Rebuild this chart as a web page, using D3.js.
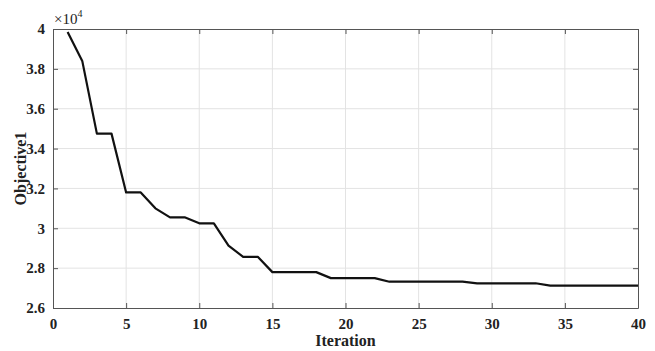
<!DOCTYPE html>
<html>
<head>
<meta charset="utf-8">
<script src="https://cdn.jsdelivr.net/npm/d3@7"></script>
<style>
  body { margin: 0; background: #fff; }
</style>
</head>
<body>
<div id="chart"></div>
<script>
// iteration number and best objective value (in units of 1e4)
const iterations = d3.range(1, 41);
const objective = [
  3.985, 3.84, 3.475, 3.475, 3.18, 3.18, 3.10, 3.055, 3.055, 3.025,
  3.025, 2.913, 2.857, 2.857, 2.78, 2.78, 2.78, 2.78, 2.75, 2.75,
  2.75, 2.75, 2.732, 2.732, 2.732, 2.732, 2.732, 2.732, 2.724, 2.724,
  2.724, 2.724, 2.724, 2.712, 2.712, 2.712, 2.712, 2.712, 2.712, 2.712
];
const xTicks = [0, 5, 10, 15, 20, 25, 30, 35, 40];
const yTicks = [2.6, 2.8, 3.0, 3.2, 3.4, 3.6, 3.8, 4.0];

const FONT = 'Liberation Serif, Times New Roman, serif';
const width = 655, height = 351;
const margin = { top: 29, right: 17, bottom: 43, left: 53 };
const w = width - margin.left - margin.right;
const h = height - margin.top - margin.bottom;

const svg = d3.select('#chart').append('svg')
  .attr('width', width)
  .attr('height', height)
  .attr('font-family', FONT);

const g = svg.append('g')
  .attr('transform', `translate(${margin.left},${margin.top})`);

const x = d3.scaleLinear().domain([0, 40]).range([0, w]);
const y = d3.scaleLinear().domain([2.6, 4.0]).range([h, 0]);

// grid
g.append('g').selectAll('line').data(xTicks.slice(1, -1)).join('line')
  .attr('x1', d => x(d)).attr('x2', d => x(d))
  .attr('y1', 0).attr('y2', h)
  .attr('stroke', '#e3e3e3').attr('stroke-width', 1);
g.append('g').selectAll('line').data(yTicks.slice(1, -1)).join('line')
  .attr('y1', d => y(d)).attr('y2', d => y(d))
  .attr('x1', 0).attr('x2', w)
  .attr('stroke', '#e3e3e3').attr('stroke-width', 1);

// axes
const fmtY = d => d === 4 || d === 3 ? d3.format('d')(d) : d3.format('.1f')(d);
g.append('g').attr('transform', `translate(0,${h})`)
  .call(d3.axisBottom(x).tickValues(xTicks).tickSizeInner(-5).tickSizeOuter(0).tickPadding(10));
g.append('g')
  .call(d3.axisLeft(y).tickValues(yTicks).tickFormat(fmtY).tickSizeInner(-5).tickSizeOuter(0).tickPadding(8));
g.append('g')
  .call(d3.axisTop(x).tickValues(xTicks).tickSizeInner(-5).tickSizeOuter(0).tickFormat(''));
g.append('g').attr('transform', `translate(${w},0)`)
  .call(d3.axisRight(y).tickValues(yTicks).tickSizeInner(-5).tickSizeOuter(0).tickFormat(''));

g.selectAll('g').attr('font-family', FONT).attr('font-size', 15).attr('font-weight', 'bold');
g.selectAll('.domain').attr('stroke', '#555').attr('stroke-width', 1);
g.selectAll('.tick line').attr('stroke', '#555');
g.selectAll('.tick text').attr('fill', '#222');

// line
g.append('path')
  .datum(iterations.map((d, i) => [d, objective[i]]))
  .attr('fill', 'none')
  .attr('stroke', '#111')
  .attr('stroke-width', 2.2)
  .attr('stroke-linejoin', 'round')
  .attr('d', d3.line().x(d => x(d[0])).y(d => y(d[1])));

// exponent label
const ex = svg.append('text').attr('x', margin.left + 1).attr('y', margin.top - 5)
  .attr('font-size', 15).attr('fill', '#222');
ex.append('tspan').text('\u00d710');
ex.append('tspan').attr('dy', -7).attr('font-size', 10).text('4');

// axis titles
svg.append('text')
  .attr('x', margin.left + w / 2).attr('y', height - 5)
  .attr('text-anchor', 'middle')
  .attr('font-size', 16).attr('font-weight', 'bold').attr('fill', '#222')
  .text('Iteration');
svg.append('text')
  .attr('transform', `translate(${26},${margin.top + h / 2}) rotate(-90)`)
  .attr('text-anchor', 'middle')
  .attr('font-size', 16).attr('font-weight', 'bold').attr('fill', '#222')
  .text('Objective1');
</script>
</body>
</html>
